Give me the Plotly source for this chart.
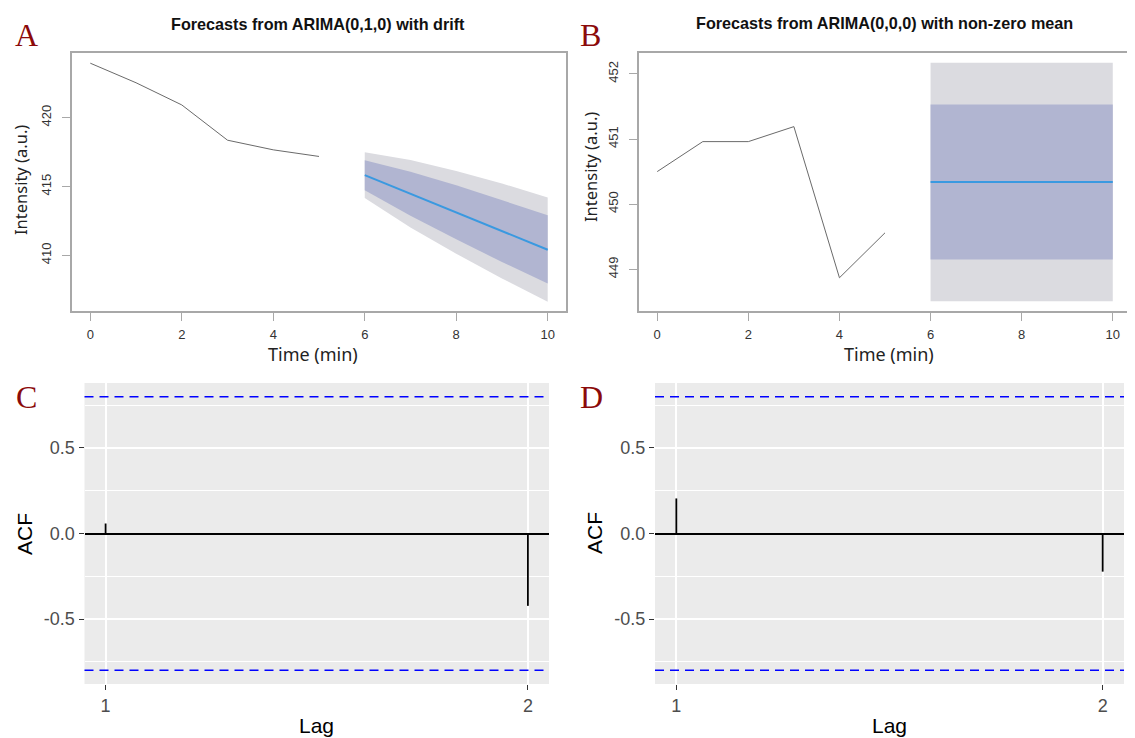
import plotly.graph_objects as go

W, H = 1135, 738
OFF = 8  # default page body margin

# ---------------- data ----------------
time_obs = [0, 1, 2, 3, 4, 5]
time_fc = [6, 7, 8, 9, 10]
a_obs = [423.95, 422.53, 420.92, 418.36, 417.66, 417.18]
a_mean = [415.82, 414.47, 413.12, 411.77, 410.41]
a_lo80 = [414.73, 412.87, 411.16, 409.52, 407.95]
a_hi80 = [416.91, 416.07, 415.08, 414.02, 412.92]
a_lo95 = [414.16, 412.02, 410.12, 408.32, 406.63]
a_hi95 = [417.48, 416.92, 416.12, 415.22, 414.20]

b_obs = [450.50, 450.96, 450.96, 451.19, 448.87, 449.56]
b_mean = [450.34, 450.34, 450.34, 450.34, 450.34]
b_lo80 = [449.15, 449.15, 449.15, 449.15, 449.15]
b_hi80 = [451.53, 451.53, 451.53, 451.53, 451.53]
b_lo95 = [448.51, 448.51, 448.51, 448.51, 448.51]
b_hi95 = [452.17, 452.17, 452.17, 452.17, 452.17]

lags = [1, 2]
acf_c = [0.059, -0.423]
acf_d = [0.205, -0.223]
ci_bound = 0.80

titles = ["Forecasts from ARIMA(0,1,0) with drift",
          "Forecasts from ARIMA(0,0,0) with non-zero mean"]
panel_letters = ["A", "B", "C", "D"]

# ---------------- styles ----------------
C95 = "#DBDBE0"
C80 = "#B1B5D1"
CMEAN = "#3A99E0"
COBS = "#6A6A6A"
BOXC = "#A8A8A8"

FW, FH = W - OFF, H - OFF


def px_x(p):
    return (p - OFF) / FW


def px_y(p):
    return 1 - (p - OFF) / FH


fig = go.Figure()


def add_forecast(xa, ya, obs, mean, lo80, hi80, lo95, hi95):
    fig.add_trace(go.Scatter(x=time_fc, y=lo95, mode="lines", line=dict(width=0),
                             xaxis=xa, yaxis=ya, showlegend=False, hoverinfo="skip"))
    fig.add_trace(go.Scatter(x=time_fc, y=hi95, mode="lines", line=dict(width=0),
                             fill="tonexty", fillcolor=C95,
                             xaxis=xa, yaxis=ya, showlegend=False, hoverinfo="skip"))
    fig.add_trace(go.Scatter(x=time_fc, y=lo80, mode="lines", line=dict(width=0),
                             xaxis=xa, yaxis=ya, showlegend=False, hoverinfo="skip"))
    fig.add_trace(go.Scatter(x=time_fc, y=hi80, mode="lines", line=dict(width=0),
                             fill="tonexty", fillcolor=C80,
                             xaxis=xa, yaxis=ya, showlegend=False, hoverinfo="skip"))
    fig.add_trace(go.Scatter(x=time_fc, y=mean, mode="lines", line=dict(color=CMEAN, width=2),
                             xaxis=xa, yaxis=ya, showlegend=False))
    fig.add_trace(go.Scatter(x=time_obs, y=obs, mode="lines", line=dict(color=COBS, width=1),
                             xaxis=xa, yaxis=ya, showlegend=False))


add_forecast("x", "y", a_obs, a_mean, a_lo80, a_hi80, a_lo95, a_hi95)
add_forecast("x2", "y2", b_obs, b_mean, b_lo80, b_hi80, b_lo95, b_hi95)


def add_acf(xa, ya, vals):
    xs, ys = [], []
    for lg, v in zip(lags, vals):
        xs += [lg, lg, None]
        ys += [0, v, None]
    fig.add_trace(go.Scatter(x=xs, y=ys, mode="lines", line=dict(color="black", width=1.8),
                             xaxis=xa, yaxis=ya, showlegend=False))


add_acf("x3", "y3", acf_c)
add_acf("x4", "y4", acf_d)

# ---------------- axes ----------------
base_axis = dict(showgrid=False, zeroline=False, showline=True, mirror=True,
                 linecolor=BOXC, linewidth=1.5, ticks="outside", ticklen=8,
                 tickcolor=BOXC, tickwidth=1,
                 tickfont=dict(family="Liberation Sans, Arial", size=13, color="#333333"))

domA_x = [px_x(72), px_x(566)]
domB_x = [px_x(639), px_x(1131)]
dom_top_y = [px_y(311), px_y(53)]
domC_x = [px_x(84.5), px_x(549)]
domD_x = [px_x(655), px_x(1124)]
dom_bot_y = [px_y(684), px_y(383)]

xt = [0, 2, 4, 6, 8, 10]
layout = dict(
    width=FW, height=FH, autosize=False,
    margin=dict(l=0, r=0, t=0, b=0),
    paper_bgcolor="white", plot_bgcolor="white",
    showlegend=False,
    xaxis=dict(base_axis, domain=domA_x, anchor="y", range=[-0.4, 10.4], tickvals=xt,
               ticklabelstandoff=3),
    yaxis=dict(base_axis, domain=dom_top_y, anchor="x", range=[405.96, 424.69],
               tickvals=[410, 415, 420], tickangle=-90, ticklabelstandoff=6),
    xaxis2=dict(base_axis, domain=domB_x, anchor="y2", range=[-0.4, 10.4], tickvals=xt,
                ticklabelstandoff=3),
    yaxis2=dict(base_axis, domain=dom_top_y, anchor="x2", range=[448.36, 452.32],
                tickvals=[449, 450, 451, 452], tickangle=-90, ticklabelstandoff=6),
)

acf_x = dict(range=[0.95, 2.05], tickvals=[1, 2], showgrid=True, gridcolor="white",
             gridwidth=1.6, zeroline=False, showline=False, ticks="outside", ticklen=5,
             tickcolor="#333333", tickwidth=1.2,
             tickfont=dict(family="Liberation Sans, Arial", size=18, color="#4D4D4D"))
acf_y = dict(range=[-0.88, 0.88], tickvals=[-0.5, 0, 0.5], ticktext=["-0.5", "0.0", "0.5"],
             showgrid=True, gridcolor="white", gridwidth=1.6,
             zeroline=True, zerolinecolor="black", zerolinewidth=1.8,
             showline=False, ticks="outside", ticklen=5, tickcolor="#333333", tickwidth=1.2,
             tickfont=dict(family="Liberation Sans, Arial", size=18, color="#4D4D4D"),
             minor=dict(tickvals=[-0.75, -0.25, 0.25, 0.75], showgrid=True,
                        gridcolor="white", gridwidth=0.8, ticks=""))
layout["xaxis3"] = dict(acf_x, domain=domC_x, anchor="y3")
layout["yaxis3"] = dict(acf_y, domain=dom_bot_y, anchor="x3")
layout["xaxis4"] = dict(acf_x, domain=domD_x, anchor="y4")
layout["yaxis4"] = dict(acf_y, domain=dom_bot_y, anchor="x4")
fig.update_layout(**layout)

# grey panel backgrounds + confidence lines
shapes = []
for k in ["3", "4"]:
    shapes.append(dict(type="rect", xref=f"x{k} domain", yref=f"y{k} domain",
                       x0=0, x1=1, y0=0, y1=1, fillcolor="#EBEBEB",
                       line=dict(width=0), layer="below"))
    for s in (1, -1):
        shapes.append(dict(type="line", xref=f"x{k} domain", yref=f"y{k}",
                           x0=0, x1=1, y0=s * ci_bound, y1=s * ci_bound,
                           line=dict(color="#0000FF", width=1.6, dash="9px,6px"),
                           layer="above"))
fig.update_layout(shapes=shapes)

# ---------------- text ----------------
ann = []


def text(s, x, y, size, family, color="black", angle=0, bold=False):
    ann.append(dict(text=(f"<b>{s}</b>" if bold else s), x=px_x(x), y=px_y(y),
                    xref="paper", yref="paper", showarrow=False, textangle=angle,
                    xanchor="center", yanchor="middle",
                    font=dict(size=size, family=family, color=color)))


text(titles[0], 318, 24, 16.2, "Liberation Sans, Arial", "#111111", bold=True)
text(titles[1], 884, 23, 16.2, "Liberation Sans, Arial", "#111111", bold=True)
for s, (x, y) in zip(panel_letters, [(26, 35), (590, 35), (26, 397), (591, 397)]):
    text(s, x, y, 32, "Liberation Serif, Times New Roman", "#8B0A0A")

text("Time (min)", 313, 354, 18, "Noto Sans, Arial", "#222222")
text("Time (min)", 889, 354, 18, "Noto Sans, Arial", "#222222")
text("Intensity (a.u.)", 20, 180, 16.5, "Noto Sans, Arial", "#222222", angle=-90)
text("Intensity (a.u.)", 591, 167, 16.5, "Noto Sans, Arial", "#222222", angle=-90)

text("ACF", 24, 534, 21, "Liberation Sans, Arial", "black", angle=-90)
text("ACF", 594, 533, 21, "Liberation Sans, Arial", "black", angle=-90)
text("Lag", 316, 725, 21, "Liberation Sans, Arial", "black")
text("Lag", 889, 725, 21, "Liberation Sans, Arial", "black")
fig.update_layout(annotations=ann)

fig.write_html("out.html")
